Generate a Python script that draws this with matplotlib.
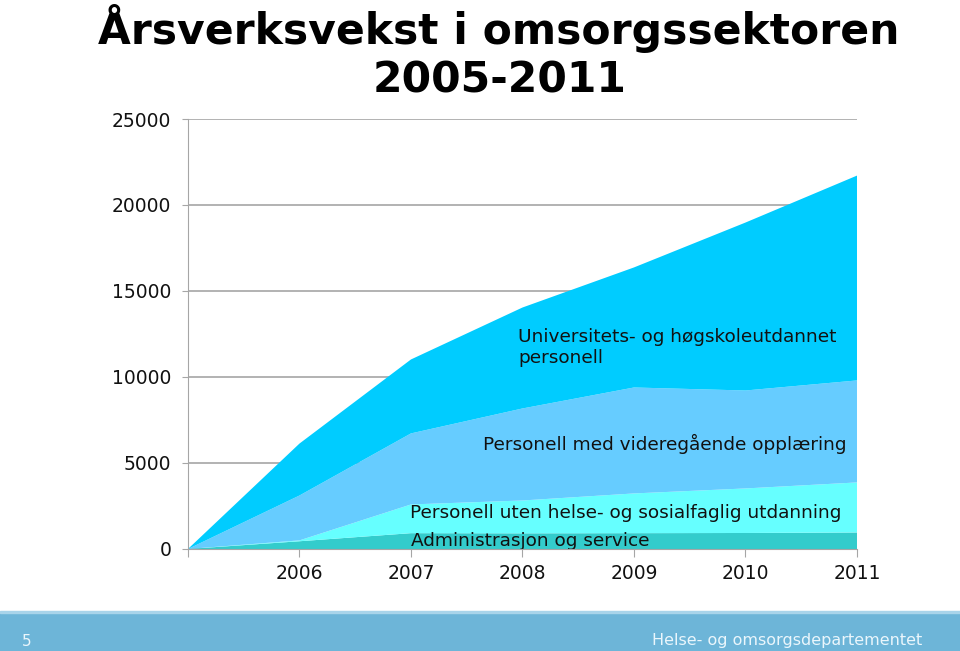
import matplotlib.pyplot as plt
from matplotlib.patches import Rectangle

plt.rcParams['font.family'] = ['DejaVu Sans']

# data (stacked layers, bottom to top)
years = [2005, 2006, 2007, 2008, 2009, 2010, 2011]
admin = [0, 450, 920, 910, 920, 930, 960]
uten_helse = [0, 50, 1670, 1910, 2310, 2590, 2910]
videregaaende = [0, 2610, 4130, 5350, 6160, 5695, 5930]
universitet = [0, 3020, 4300, 5870, 6980, 9765, 11910]

tick_labels = ['', '2006', '2007', '2008', '2009', '2010', '2011']
y_ticks = [0, 5000, 10000, 15000, 20000, 25000]

colors = ['#33CCCC', '#66FFFF', '#66CCFF', '#00CCFF']

fig = plt.figure(figsize=(9.6, 6.51), dpi=100)
ax = fig.add_axes([0.1958, 0.1567, 0.6969, 0.6605])

ax.stackplot(years, admin, uten_helse, videregaaende, universitet,
             colors=colors, linewidth=0, zorder=2)

ax.set_xlim(2005, 2011)
ax.set_ylim(0, 25000)
ax.set_yticks(y_ticks)
ax.set_yticklabels([str(v) for v in y_ticks], fontsize=13.5, color='#111111')
ax.set_xticks(years)
ax.set_xticklabels(tick_labels, fontsize=13.5, color='#111111')
ax.yaxis.grid(True, color='#A6A6A6', linewidth=1.2, zorder=1)
ax.set_axisbelow(True)
for s in ['top', 'right']:
    ax.spines[s].set_visible(False)
ax.spines['left'].set_color('#A6A6A6')
ax.spines['bottom'].set_color('#A6A6A6')
ax.spines['bottom'].set_zorder(3)
ax.tick_params(axis='y', length=4, color='#A6A6A6', pad=8)
ax.tick_params(axis='x', length=6, color='#A6A6A6', pad=5)

# layer labels
lab = dict(fontsize=13.3, color='#111111', va='center')
ax.text(2007.96, 11715, 'Universitets- og høgskoleutdannet\npersonell',
        linespacing=1.15, **lab)
ax.text(2007.65, 6130, 'Personell med videregående opplæring', **lab)
ax.text(2006.99, 2120, 'Personell uten helse- og sosialfaglig utdanning', **lab)
ax.text(2007.0, 490, 'Administrasjon og service', **lab)

fig.text(0.52, 0.919, 'Årsverksvekst i omsorgssektoren\n2005-2011',
         ha='center', va='center', fontsize=30.6, fontweight='bold',
         linespacing=1.18)

# footer band
fig.patches.append(Rectangle((0, 0), 1, 39 / 651, transform=fig.transFigure,
                             color='#6DB5D8', zorder=0))
fig.patches.append(Rectangle((0, 38 / 651), 1, 2 / 651, transform=fig.transFigure,
                             color='#A8D4EA', zorder=0))
fig.text(27 / 960, 1 - 641 / 651, '5', fontsize=11, color='#EAF6FC',
         ha='center', va='center')
fig.text(922 / 960, 1 - 641 / 651, 'Helse- og omsorgsdepartementet',
         fontsize=11.5, color='#EAF6FC', ha='right', va='center')

fig.savefig('out.png', dpi=100)
